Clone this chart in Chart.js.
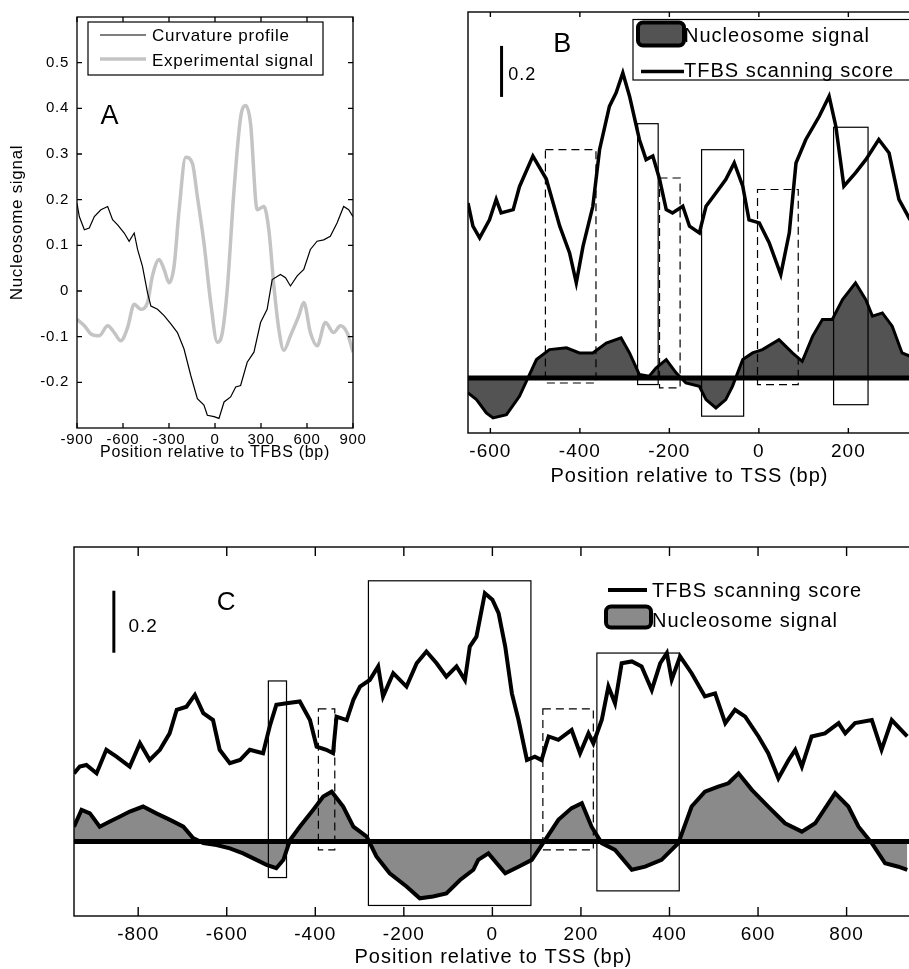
<!DOCTYPE html>
<html>
<head>
<meta charset="utf-8">
<script src="https://cdn.jsdelivr.net/npm/chart.js@4.4.1/dist/chart.umd.min.js"></script>
<style>
html, body { margin: 0; padding: 0; background: #fff; overflow: hidden; width: 909px; height: 969px; }
canvas { position: absolute; }
#chartA { left: 0; top: 0; }
#chartB { left: 440px; top: 0; }
#chartC { left: 0; top: 520px; }
</style>
</head>
<body>
<canvas id="chartA" width="400" height="470"></canvas>
<canvas id="chartB" width="490" height="490"></canvas>
<canvas id="chartC" width="930" height="449"></canvas>
<script>
// ---- panel A: profiles around the TFBS ----
const aCurvPos = [-900,-885,-852,-820,-787,-744,-700,-668,-635,-592,-560,-527,-505,-473,-440,-418,-375,-332,-288,-245,-202,-158,-115,-72,-50,-6,26,59,102,135,167,210,254,297,340,373,427,460,492,536,579,622,666,709,752,796,839,872,900];
const aCurvVal = [0.192,0.163,0.134,0.138,0.163,0.178,0.185,0.156,0.145,0.127,0.109,0.127,0.091,0.054,-0.004,-0.033,-0.040,-0.054,-0.072,-0.091,-0.127,-0.185,-0.236,-0.25,-0.272,-0.275,-0.279,-0.243,-0.232,-0.210,-0.207,-0.156,-0.134,-0.069,-0.040,0.025,0.036,0.029,0.011,0.033,0.047,0.091,0.109,0.112,0.120,0.149,0.185,0.178,0.163];
const aExpPos = [-900,-852,-809,-755,-700,-657,-614,-570,-527,-484,-440,-408,-364,-332,-299,-267,-234,-191,-147,-115,-72,-28,15,48,80,124,167,200,232,275,319,351,384,416,449,492,547,579,622,666,720,774,818,861,900];
const aExpVal = [-0.062,-0.076,-0.094,-0.098,-0.076,-0.091,-0.109,-0.080,-0.029,-0.040,-0.025,0.033,0.069,0.047,0.018,0.054,0.178,0.293,0.279,0.207,0.105,-0.025,-0.112,-0.091,0.004,0.221,0.380,0.406,0.366,0.178,0.185,0.134,0.011,-0.083,-0.130,-0.098,-0.054,-0.025,-0.091,-0.120,-0.069,-0.091,-0.076,-0.091,-0.134];
const aXTicks = [-900,-600,-300,0,300,600,900];
const aYTicks = [-0.2,-0.1,0,0.1,0.2,0.3,0.4,0.5];
const aYLabels = ['-0.2','-0.1','0','0.1','0.2','0.3','0.4','0.5'];

// ---- panel B ----
const bTfbsPos = [-650,-639,-624,-602,-587,-576,-549,-535,-505,-475,-445,-423,-408,-393,-371,-356,-334,-319,-304,-289,-267,-252,-237,-222,-207,-193,-170,-155,-133,-118,-96,-74,-55,-36,-22,1,23,49,68,83,105,135,157,172,190,216,239,268,291,313,338];
const bTfbsVal = [0.686,0.595,0.549,0.62,0.70,0.647,0.66,0.75,0.87,0.78,0.595,0.49,0.373,0.516,0.673,0.895,1.065,1.118,1.196,1.105,0.935,0.856,0.87,0.78,0.66,0.647,0.673,0.595,0.569,0.673,0.725,0.778,0.843,0.752,0.62,0.608,0.53,0.405,0.569,0.843,0.935,1.026,1.105,0.987,0.752,0.804,0.856,0.935,0.882,0.70,0.62];
const bNucPos = [-650,-631,-609,-594,-564,-535,-516,-497,-468,-430,-401,-371,-341,-308,-289,-267,-245,-230,-207,-185,-163,-133,-118,-96,-74,-59,-36,-14,8,45,75,97,120,142,164,187,216,239,254,276,298,320,338];
const bNucVal = [-0.059,-0.085,-0.137,-0.157,-0.144,-0.072,0,0.072,0.111,0.118,0.098,0.098,0.137,0.157,0.098,0.013,0.007,0.039,0.072,0.02,-0.02,-0.033,-0.085,-0.118,-0.085,-0.033,0.072,0.098,0.111,0.150,0.098,0.065,0.163,0.229,0.229,0.307,0.373,0.307,0.242,0.255,0.203,0.098,0.085];
// [start bp, end bp, low, high]
const bSolidBoxes = [[-271,-225,-0.026,0.997],[-128,-34,-0.150,0.895],[167,244,-0.105,0.983]];
const bDashedBoxes = [[-477,-364,-0.02,0.895],[-222,-176,-0.039,0.784],[-3,88,-0.026,0.739]];
const bXTicks = [-600,-400,-200,0,200];
const bXLabels = ['-600','-400','-200','0','200'];

// ---- panel C ----
const cTfbsPos = [-945,-932,-917,-894,-872,-849,-819,-796,-774,-751,-729,-713,-691,-672,-653,-631,-616,-593,-570,-548,-518,-503,-488,-465,-435,-412,-397,-375,-360,-352,-329,-314,-299,-277,-258,-247,-224,-194,-171,-149,-126,-104,-81,-62,-51,-36,-17,0,14,29,44,59,78,96,111,127,149,179,198,217,228,247,262,277,292,315,337,360,379,394,405,424,450,480,503,526,548,571,601,623,646,669,684,699,721,751,782,797,819,857,879,902,937];
const cTfbsVal = [0.220,0.242,0.247,0.220,0.296,0.274,0.242,0.317,0.263,0.296,0.349,0.425,0.435,0.473,0.414,0.392,0.296,0.253,0.263,0.296,0.285,0.371,0.441,0.446,0.452,0.392,0.306,0.296,0.285,0.403,0.392,0.457,0.5,0.521,0.565,0.468,0.543,0.5,0.575,0.613,0.575,0.532,0.565,0.521,0.629,0.661,0.801,0.780,0.737,0.629,0.478,0.392,0.263,0.274,0.263,0.339,0.328,0.360,0.285,0.349,0.317,0.392,0.5,0.446,0.575,0.581,0.565,0.489,0.575,0.608,0.522,0.597,0.543,0.468,0.478,0.382,0.425,0.403,0.339,0.285,0.204,0.263,0.296,0.242,0.339,0.349,0.382,0.349,0.382,0.392,0.296,0.392,0.339];
const cNucPos = [-945,-928,-909,-887,-864,-841,-819,-789,-759,-728,-698,-676,-653,-623,-593,-563,-533,-510,-488,-472,-457,-435,-405,-382,-363,-337,-314,-284,-262,-232,-194,-164,-134,-104,-73,-43,-32,-9,29,59,89,119,149,179,202,224,247,277,315,345,382,420,450,480,510,533,556,586,623,661,699,729,774,804,827,857,887,917,937];
const cNucVal = [0.048,0.102,0.091,0.048,0.065,0.081,0.097,0.113,0.091,0.070,0.048,0.011,-0.005,-0.011,-0.022,-0.038,-0.059,-0.075,-0.086,-0.059,0.005,0.048,0.102,0.145,0.161,0.113,0.048,0.016,-0.048,-0.102,-0.145,-0.183,-0.177,-0.167,-0.124,-0.091,-0.059,-0.038,-0.102,-0.081,-0.059,0.005,0.070,0.108,0.124,0.048,-0.005,-0.027,-0.091,-0.081,-0.059,-0.005,0.113,0.161,0.177,0.188,0.220,0.167,0.113,0.059,0.032,0.059,0.156,0.113,0.048,-0.005,-0.070,-0.081,-0.091];
const cSolidBoxes = [[-506,-465,-0.116,0.518],[-280,87,-0.206,0.841],[236,422,-0.159,0.608]];
const cDashedBoxes = [[-393,-356,-0.027,0.428],[114,228,-0.027,0.428]];
const cXTicks = [-800,-600,-400,-200,0,200,400,600,800];
const cXLabels = ['-800','-600','-400','-200','0','200','400','600','800'];

const scaleBar = 0.2;

const FONT = '"Liberation Sans", Arial, sans-serif';
Chart.defaults.font.family = FONT;
Chart.defaults.color = '#000';

function pts(xs, ys) {
    return xs.map((x, i) => ({ x: x, y: ys[i] }));
}

// frame with inward ticks, zero line, site boxes, scale bar, panel letter and legend
const decor = {
    id: 'decor',
    beforeDraw(chart, args, o) {
        chart.ctx.letterSpacing = (o.spacing || 0) + 'px';
    },
    afterDatasetsDraw(chart, args, o) {
        const ctx = chart.ctx, a = chart.chartArea;
        const xs = chart.scales.x, ys = chart.scales.y;
        const px = v => xs.getPixelForValue(v), py = v => ys.getPixelForValue(v);
        ctx.save();
        ctx.strokeStyle = '#000';
        ctx.fillStyle = '#000';
        ctx.letterSpacing = (o.spacing || 0) + 'px';

        if (o.zeroWidth) {
            ctx.lineWidth = o.zeroWidth;
            ctx.beginPath();
            ctx.moveTo(a.left, py(0));
            ctx.lineTo(a.right, py(0));
            ctx.stroke();
        }

        const box = (b, dash) => {
            ctx.setLineDash(dash);
            ctx.lineWidth = 1.2;
            const x0 = px(b[0]), x1 = px(b[1]), y0 = py(b[2]), y1 = py(b[3]);
            ctx.strokeRect(x0, y1, x1 - x0, y0 - y1);
        };
        (o.solid || []).forEach(b => box(b, []));
        (o.dashed || []).forEach(b => box(b, [8, 5]));
        ctx.setLineDash([]);

        if (o.bar) {
            ctx.lineWidth = o.bar.width;
            ctx.beginPath();
            ctx.moveTo(px(o.bar.x), py(o.bar.y));
            ctx.lineTo(px(o.bar.x), py(o.bar.y + scaleBar));
            ctx.stroke();
            ctx.font = o.bar.size + 'px ' + FONT;
            ctx.textAlign = 'left';
            ctx.textBaseline = 'middle';
            ctx.fillText(String(scaleBar), px(o.bar.lx), py(o.bar.ly));
        }

        if (o.letter) {
            ctx.font = o.letter.size + 'px ' + FONT;
            ctx.textAlign = 'center';
            ctx.textBaseline = 'middle';
            ctx.fillText(o.letter.text, px(o.letter.x), py(o.letter.y));
        }

        if (o.legend) {
            const L = o.legend;
            if (L.box) {
                ctx.fillStyle = '#fff';
                ctx.fillRect(L.box[0], L.box[1], L.box[2], L.box[3]);
                ctx.lineWidth = 1.2;
                ctx.strokeRect(L.box[0], L.box[1], L.box[2], L.box[3]);
            }
            ctx.font = L.size + 'px ' + FONT;
            ctx.textAlign = 'left';
            ctx.textBaseline = 'middle';
            L.items.forEach(it => {
                const ds = chart.data.datasets[it.ds];
                if (it.patch) {
                    ctx.beginPath();
                    ctx.roundRect(it.x0, it.y - it.h / 2, it.x1 - it.x0, it.h, 5);
                    ctx.fillStyle = ds.backgroundColor;
                    ctx.fill();
                    ctx.lineWidth = 4;
                    ctx.strokeStyle = '#000';
                    ctx.stroke();
                } else {
                    ctx.beginPath();
                    ctx.lineWidth = ds.borderWidth;
                    ctx.strokeStyle = ds.borderColor;
                    ctx.moveTo(it.x0, it.y);
                    ctx.lineTo(it.x1, it.y);
                    ctx.stroke();
                }
                ctx.fillStyle = '#000';
                ctx.fillText(ds.label, it.tx, it.ty);
            });
        }

        ctx.strokeStyle = '#000';
        ctx.lineWidth = o.frame;
        ctx.strokeRect(a.left, a.top, a.right - a.left, a.bottom - a.top);
        ctx.beginPath();
        xs.ticks.forEach(t => {
            const x = px(t.value);
            ctx.moveTo(x, a.bottom); ctx.lineTo(x, a.bottom - o.tick);
            ctx.moveTo(x, a.top); ctx.lineTo(x, a.top + o.tick);
        });
        if (o.yTicks) {
            ys.ticks.forEach(t => {
                const y = py(t.value);
                ctx.moveTo(a.left, y); ctx.lineTo(a.left + o.tick, y);
                ctx.moveTo(a.right, y); ctx.lineTo(a.right - o.tick, y);
            });
        }
        ctx.stroke();
        ctx.restore();
    }
};

function xAxis(min, max, ticks, labels, size, pad, title, titleSize, titlePad, height) {
    return {
        type: 'linear', min: min, max: max,
        afterBuildTicks: s => { s.ticks = ticks.map(v => ({ value: v })); },
        afterFit: s => { s.height = height; },
        ticks: { autoSkip: false, maxRotation: 0, padding: pad, font: { size: size }, callback: (v, i) => labels[i] },
        grid: { display: false, drawTicks: false },
        border: { display: false },
        title: { display: true, text: title, font: { size: titleSize }, padding: { top: 0, bottom: titlePad } }
    };
}

// panel A
new Chart(document.getElementById('chartA').getContext('2d'), {
    type: 'line',
    data: {
        datasets: [
            {
                label: 'Curvature profile',
                data: pts(aCurvPos, aCurvVal),
                borderColor: '#000',
                borderWidth: 1.2,
                pointRadius: 0,
                fill: false
            },
            {
                label: 'Experimental signal',
                data: pts(aExpPos, aExpVal),
                borderColor: '#c4c4c4',
                borderWidth: 3.5,
                pointRadius: 0,
                cubicInterpolationMode: 'monotone',
                fill: false
            }
        ]
    },
    options: {
        responsive: false,
        animation: false,
        layout: { padding: { left: 0, top: 12, right: 47, bottom: 0 } },
        scales: {
            x: xAxis(-900, 900, aXTicks, aXTicks.map(String), 15, 3, 'Position relative to TFBS (bp)', 16, 8, 42),
            y: {
                type: 'linear', min: -0.3, max: 0.6,
                afterBuildTicks: s => { s.ticks = aYTicks.map(v => ({ value: v })); },
                afterFit: s => { s.width = 77; },
                ticks: { padding: 8, font: { size: 15 }, callback: (v, i) => aYLabels[i] },
                grid: { display: false, drawTicks: false },
                border: { display: false },
                title: { display: true, text: 'Nucleosome signal', font: { size: 17 }, padding: { top: 7, bottom: 0 } }
            }
        },
        plugins: {
            legend: { display: false },
            tooltip: { enabled: false },
            decor: {
                spacing: 0.7, frame: 1.3, tick: 5, yTicks: true,
                letter: { text: 'A', x: -685, y: 0.383, size: 27 },
                legend: {
                    size: 17, box: [88, 22, 235, 53],
                    items: [
                        { ds: 0, x0: 100, x1: 146, y: 35, tx: 152, ty: 36 },
                        { ds: 1, x0: 100, x1: 146, y: 59, tx: 152, ty: 61 }
                    ]
                }
            }
        }
    },
    plugins: [decor]
});

// panel B
new Chart(document.getElementById('chartB').getContext('2d'), {
    type: 'line',
    data: {
        datasets: [
            {
                label: 'TFBS scanning score',
                data: pts(bTfbsPos, bTfbsVal),
                borderColor: '#000',
                borderWidth: 3.5,
                pointRadius: 0,
                fill: false
            },
            {
                label: 'Nucleosome signal',
                data: pts(bNucPos, bNucVal),
                borderColor: '#000',
                borderWidth: 3,
                backgroundColor: '#535353',
                pointRadius: 0,
                fill: 'origin'
            }
        ]
    },
    options: {
        responsive: false,
        animation: false,
        layout: { padding: { left: 28, top: 12, right: 19, bottom: 0 } },
        scales: {
            x: xAxis(-650, 340, bXTicks, bXLabels, 19, 7, 'Position relative to TSS (bp)', 20, 2, 57),
            y: { type: 'linear', min: -0.216, max: 1.435, display: false }
        },
        plugins: {
            legend: { display: false },
            tooltip: { enabled: false },
            decor: {
                spacing: 1, frame: 1.4, tick: 5, zeroWidth: 5,
                solid: bSolidBoxes, dashed: bDashedBoxes,
                bar: { x: -575, y: 1.102, width: 3, lx: -560, ly: 1.188, size: 18 },
                letter: { text: 'B', x: -438, y: 1.306, size: 27 },
                legend: {
                    size: 20, box: [193, 19.5, 300, 60.5],
                    items: [
                        { ds: 1, patch: true, x0: 198, x1: 244, y: 34, h: 23, tx: 244, ty: 36 },
                        { ds: 0, x0: 201, x1: 244, y: 71.5, tx: 244, ty: 71 }
                    ]
                }
            }
        }
    },
    plugins: [decor]
});

// panel C
new Chart(document.getElementById('chartC').getContext('2d'), {
    type: 'line',
    data: {
        datasets: [
            {
                label: 'TFBS scanning score',
                data: pts(cTfbsPos, cTfbsVal),
                borderColor: '#000',
                borderWidth: 4,
                pointRadius: 0,
                fill: false
            },
            {
                label: 'Nucleosome signal',
                data: pts(cNucPos, cNucVal),
                borderColor: '#000',
                borderWidth: 4,
                backgroundColor: '#8a8a8a',
                pointRadius: 0,
                fill: 'origin'
            }
        ]
    },
    options: {
        responsive: false,
        animation: false,
        layout: { padding: { left: 74, top: 27, right: 17, bottom: 0 } },
        scales: {
            x: xAxis(-945, 950, cXTicks, cXLabels, 19, 7, 'Position relative to TSS (bp)', 20, 0, 53),
            y: { type: 'linear', min: -0.24, max: 0.95, display: false }
        },
        plugins: {
            legend: { display: false },
            tooltip: { enabled: false },
            decor: {
                spacing: 1, frame: 1.4, tick: 9, zeroWidth: 5,
                solid: cSolidBoxes, dashed: cDashedBoxes,
                bar: { x: -855, y: 0.609, width: 3, lx: -822, ly: 0.694, size: 19 },
                letter: { text: 'C', x: -600, y: 0.769, size: 26 },
                legend: {
                    size: 20, box: null,
                    items: [
                        { ds: 0, x0: 608, x1: 647, y: 70, tx: 652, ty: 71.5 },
                        { ds: 1, patch: true, x0: 606, x1: 651, y: 97, h: 21, tx: 652, ty: 101.5 }
                    ]
                }
            }
        }
    },
    plugins: [decor]
});
</script>
</body>
</html>
